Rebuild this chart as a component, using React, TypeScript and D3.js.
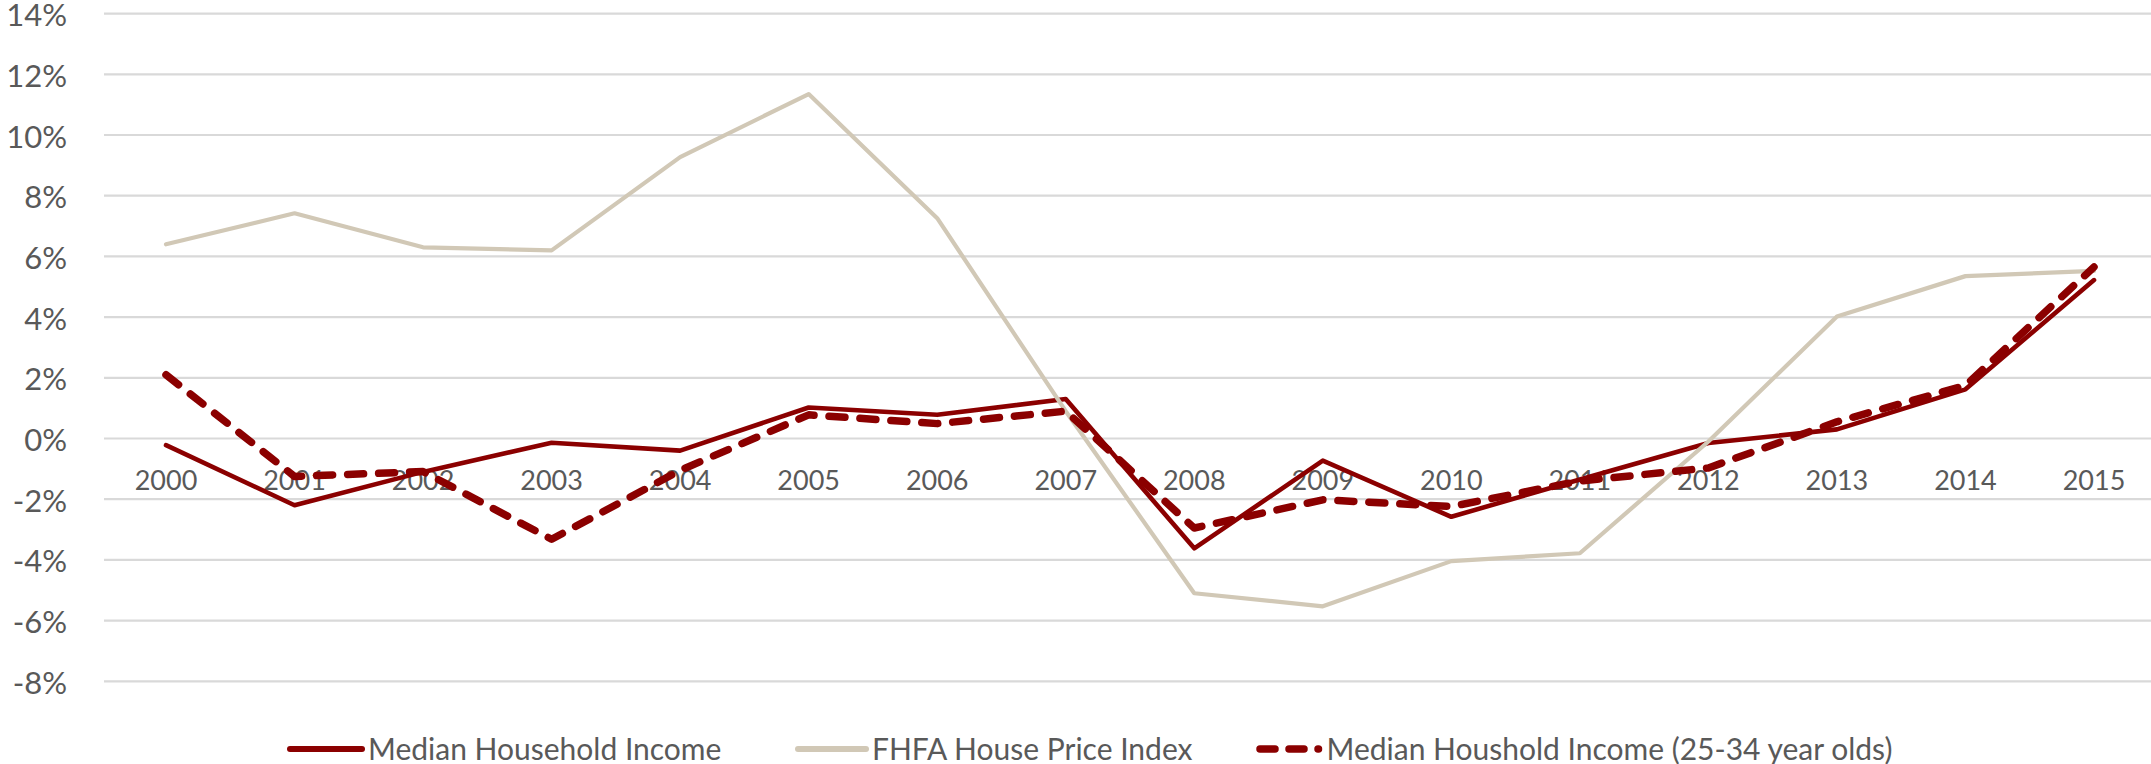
import * as d3 from "d3";
import { useEffect, useRef } from "react";

// data (annual % change)
const years = [2000, 2001, 2002, 2003, 2004, 2005, 2006, 2007, 2008, 2009, 2010, 2011, 2012, 2013, 2014, 2015];
const medianIncome = [-0.22, -2.2, -1.1, -0.14, -0.4, 1.02, 0.78, 1.3, -3.62, -0.73, -2.58, -1.35, -0.15, 0.3, 1.62, 5.22];
const fhfaIndex = [6.4, 7.42, 6.3, 6.2, 9.27, 11.35, 7.26, 0.9, -5.1, -5.53, -4.04, -3.78, -0.1, 4.02, 5.35, 5.52];
const youngIncome = [2.1, -1.25, -1.09, -3.32, -1.05, 0.78, 0.49, 0.9, -2.95, -2.02, -2.24, -1.4, -0.97, 0.55, 1.75, 5.65];
const yTicks = [14, 12, 10, 8, 6, 4, 2, 0, -2, -4, -6, -8];

const seriesNames = ["Median Household Income", "FHFA House Price Index", "Median Houshold Income (25-34 year olds)"];

const RED = "#8B0000";
const TAN = "#D1C8B6";
const GRID = "#D9D9D9";
const TEXT = "#595959";
const FONT = "Lato, 'Noto Sans', sans-serif";

const W = 2151;
const H = 764;

const App = () => {
    const svgRef = useRef<SVGSVGElement>(null);

    useEffect(() => {
        const svg = d3.select(svgRef.current);
        svg.selectAll("*").remove();

        const x = d3.scalePoint<number>().domain(years).range([166, 2094]);
        const y = d3.scaleLinear().domain([-8, 14]).range([681.3, 13.6]);

        // gridlines
        svg.append("g")
            .selectAll("line")
            .data(yTicks)
            .enter()
            .append("line")
            .attr("x1", 104)
            .attr("x2", W)
            .attr("y1", (d) => y(d))
            .attr("y2", (d) => y(d))
            .attr("stroke", GRID)
            .attr("stroke-width", 2.2);

        // y labels
        svg.append("g")
            .selectAll("text")
            .data(yTicks)
            .enter()
            .append("text")
            .attr("x", 67)
            .attr("y", (d) => y(d) + 12.5)
            .attr("text-anchor", "end")
            .attr("font-family", FONT)
            .attr("font-size", 31)
            .attr("fill", TEXT)
            .text((d) => `${d}%`);

        // x labels (sit just under the 0% line)
        svg.append("g")
            .selectAll("text")
            .data(years)
            .enter()
            .append("text")
            .attr("x", (d) => x(d)!)
            .attr("y", y(0) + 51.5)
            .attr("text-anchor", "middle")
            .attr("font-family", FONT)
            .attr("font-size", 27)
            .attr("fill", TEXT)
            .text((d) => d);

        const line = d3.line<number>()
            .x((_, i) => x(years[i])!)
            .y((d) => y(d));

        const series = [
            { values: medianIncome, color: RED, width: 4.6, dash: null },
            { values: fhfaIndex, color: TAN, width: 4.2, dash: null },
            { values: youngIncome, color: RED, width: 7.5, dash: "16 15" },
        ];

        series.forEach((s) => {
            svg.append("path")
                .datum(s.values)
                .attr("d", line)
                .attr("fill", "none")
                .attr("stroke", s.color)
                .attr("stroke-width", s.width)
                .attr("stroke-linejoin", "round")
                .attr("stroke-linecap", "round")
                .attr("stroke-dasharray", s.dash);
        });

        // legend
        const legendY = 749;
        const legendItems = [
            { x0: 290, x1: 362, color: RED, width: 6, dash: null },
            { x0: 798, x1: 866, color: TAN, width: 6, dash: null },
            { x0: 1260, x1: 1318.5, color: RED, width: 7.5, dash: "15 14" },
        ];
        const legend = svg.append("g");
        legendItems.forEach((it, i) => {
            legend.append("line")
                .attr("x1", it.x0)
                .attr("x2", it.x1)
                .attr("y1", legendY)
                .attr("y2", legendY)
                .attr("stroke", it.color)
                .attr("stroke-width", it.width)
                .attr("stroke-linecap", "round")
                .attr("stroke-dasharray", it.dash);
            legend.append("text")
                .attr("x", it.x1 + (i === 2 ? 8 : 6))
                .attr("y", legendY + 10.5)
                .attr("font-family", FONT)
                .attr("font-size", 30)
                .attr("fill", TEXT)
                .text(seriesNames[i]);
        });
    }, []);

    return (
        <svg
            ref={svgRef}
            width={W}
            height={H}
            style={{ position: "absolute", left: 0, top: 0, background: "#fff" }}
        ></svg>
    );
};

export default App;
